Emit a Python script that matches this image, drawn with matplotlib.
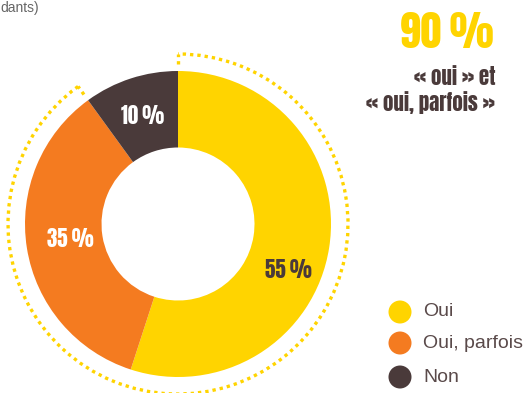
import matplotlib
matplotlib.use('Agg')
import numpy as np
import matplotlib.pyplot as plt
from matplotlib.patches import Arc, Circle

labels = ['Oui', 'Oui, parfois', 'Non']
values = [55, 35, 10]
colors = ['#FFD400', '#F47B20', '#4A3A3A']
label_colors = ['#4A3A3A', 'white', 'white']
highlight = values[0] + values[1]

heavy = ['Anton', 'DejaVu Sans']
plain = ['Liberation Sans', 'DejaVu Sans']

W, H = 529, 393
fig = plt.figure(figsize=(W / 100, H / 100), dpi=100)
ax = fig.add_axes([0, 0, 1, 1])

cx, cy, R = 178, 169, 153
ax.pie(values, colors=colors, startangle=90, counterclock=False,
       radius=R, center=(cx, cy), frame=True,
       wedgeprops=dict(width=R * 0.5, linewidth=0))
ax.set_xlim(0, W)
ax.set_ylim(0, H)
ax.set_aspect('equal')
ax.axis('off')

# percentage labels on the ring
label_pos = [(288, 123), (70, 154), (143, 277)]
for v, (x, y), c in zip(values, label_pos, label_colors):
    ax.text(x, y, f'{v}\u202f%', ha='center', va='center', color=c,
            fontsize=15, family=heavy)

# dotted arc around the "oui" + "oui, parfois" share
end_angle = 90 + 360 * values[2] / 100
rd = 170
dots = dict(color=colors[0], lw=2.4, linestyle=(0, (1, 1.2)))
ax.add_patch(Arc((cx, cy), 2 * rd, 2 * rd, theta1=end_angle, theta2=450, **dots))
for a in (90, end_angle):
    t = np.deg2rad(a)
    ax.plot([cx + 160 * np.cos(t), cx + rd * np.cos(t)],
            [cy + 160 * np.sin(t), cy + rd * np.sin(t)], **dots)

ax.text(494, 361, f'{highlight}\u202f%', ha='right', va='center', color=colors[0],
        fontsize=30, family=heavy)
ax.text(495, 316, '« oui » et', ha='right', va='center', color='#4A3A3A',
        fontsize=15, family=heavy)
ax.text(495, 290, '« oui, parfois »', ha='right', va='center', color='#4A3A3A',
        fontsize=15, family=heavy)

# legend
leg_y = [81, 50, 16]
for lab, c, y in zip(labels, colors, leg_y):
    ax.add_patch(Circle((400, y), 11.5, color=c, lw=0))
    ax.text(423, y, lab, ha='left', va='center', color='#5A4A4A',
            fontsize=14, family=plain)

ax.text(0, 392, 'dants)', ha='left', va='top', color='#666666',
        fontsize=10, family=plain)

fig.savefig('out.png', dpi=100)
